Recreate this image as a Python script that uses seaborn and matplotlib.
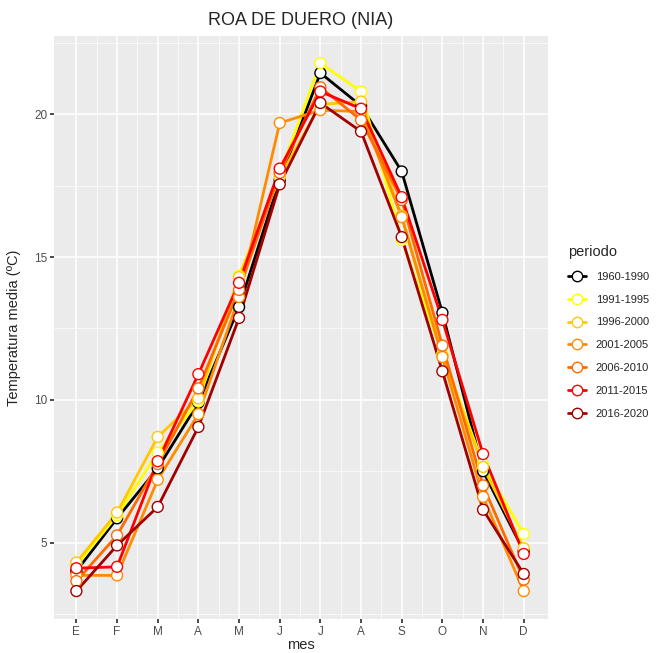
# Load libraries
import pandas as pd
import numpy as np
import matplotlib
matplotlib.use('Agg')
import matplotlib.pyplot as plt
import seaborn as sns

# Data
meses = ['E', 'F', 'M', 'A', 'M', 'J', 'J', 'A', 'S', 'O', 'N', 'D']
periodos = ['1960-1990', '1991-1995', '1996-2000', '2001-2005',
            '2006-2010', '2011-2015', '2016-2020']
colores = ['#000000', '#FFFF00', '#FFC800', '#FF8C00',
           '#FF6A00', '#FF0000', '#A00000']

t_1960_1990 = [4.0, 5.85, 7.6, 9.9, 13.25, 17.7, 21.45, 20.3, 18.0, 13.05, 7.5, 4.7]
t_1991_1995 = [4.2, 5.95, 8.15, 9.95, 14.35, 17.9, 21.8, 20.8, 15.6, 11.6, 7.75, 5.3]
t_1996_2000 = [4.3, 6.05, 8.7, 10.05, 14.3, 17.8, 20.35, 20.45, 16.45, 11.55, 7.65, 4.8]
t_2001_2005 = [3.85, 3.85, 7.2, 9.5, 13.6, 19.7, 20.15, 20.1, 16.4, 11.5, 6.6, 3.3]
t_2006_2010 = [3.65, 5.25, 7.75, 10.4, 13.85, 17.95, 20.95, 19.8, 17.0, 11.9, 7.0, 3.7]
t_2011_2015 = [4.1, 4.15, 7.85, 10.9, 14.1, 18.1, 20.8, 20.2, 17.1, 12.8, 8.1, 4.6]
t_2016_2020 = [3.3, 4.9, 6.25, 9.05, 12.87, 17.55, 20.4, 19.4, 15.7, 11.0, 6.15, 3.9]

series = [t_1960_1990, t_1991_1995, t_1996_2000, t_2001_2005,
          t_2006_2010, t_2011_2015, t_2016_2020]

# Build long table
mes_num = np.arange(1, 13)
df = pd.concat([pd.DataFrame({'mes': mes_num, 'temp': vals, 'periodo': p})
                for p, vals in zip(periodos, series)], ignore_index=True)

# ggplot-like grey theme
sns.set_theme(style='darkgrid', rc={
    'axes.facecolor': '#EBEBEB',
    'grid.color': 'white',
    'axes.edgecolor': '#EBEBEB',
})
plt.rcParams['font.family'] = ['Liberation Sans', 'DejaVu Sans']

fig = plt.figure(figsize=(6.62, 6.53), dpi=100)
ax = fig.add_axes([0.0816, 0.052, 0.7464, 0.893])

# lines first, then all points on top (like geom_line + geom_point)
sns.lineplot(data=df, x='mes', y='temp', hue='periodo', hue_order=periodos,
             palette=colores, linewidth=2.0, ax=ax, legend=False)
sns.scatterplot(data=df, x='mes', y='temp', hue='periodo', hue_order=periodos,
                palette=colores, s=62, linewidth=1.0, ax=ax, legend=False,
                zorder=3)
pts = ax.collections[-1]
pts.set_edgecolors(pts.get_facecolors())
pts.set_facecolors('white')

ax.set_xlim(0.45, 12.6)
ax.set_ylim(2.32, 22.75)
ax.set_xticks(mes_num)
ax.set_xticklabels(meses)
ax.set_xticks(np.arange(1.5, 12, 1), minor=True)
ax.set_yticks([5, 10, 15, 20])
ax.set_yticks([2.5, 7.5, 12.5, 17.5, 22.5], minor=True)
ax.grid(which='major', color='white', linewidth=1.1)
ax.grid(which='minor', color='white', linewidth=0.5)
ax.tick_params(which='major', length=3, color='#333333', labelsize=8.5,
               labelcolor='#4D4D4D', pad=2, bottom=True, left=True)
ax.tick_params(which='minor', length=0)
for s in ax.spines.values():
    s.set_visible(False)

ax.set_xlabel('mes', fontsize=10.5, labelpad=0)
ax.set_ylabel('Temperatura media (ºC)', fontsize=10.5, labelpad=9)
ax.set_title('ROA DE DUERO (NIA)', fontsize=13, pad=8)

# Legend on the right
handles = [plt.Line2D([], [], color=c, linewidth=2.0, marker='o', markersize=7.5,
                      markerfacecolor='white', markeredgecolor=c)
           for c in colores]
leg = fig.legend(handles, periodos, title='periodo', loc='upper left',
                 bbox_to_anchor=(0.843, 0.64), frameon=False, fontsize=8,
                 title_fontsize=10.5, handlelength=1.6, labelspacing=1.15,
                 handletextpad=0.9, alignment='left')

fig.savefig('out.png', dpi=100)
